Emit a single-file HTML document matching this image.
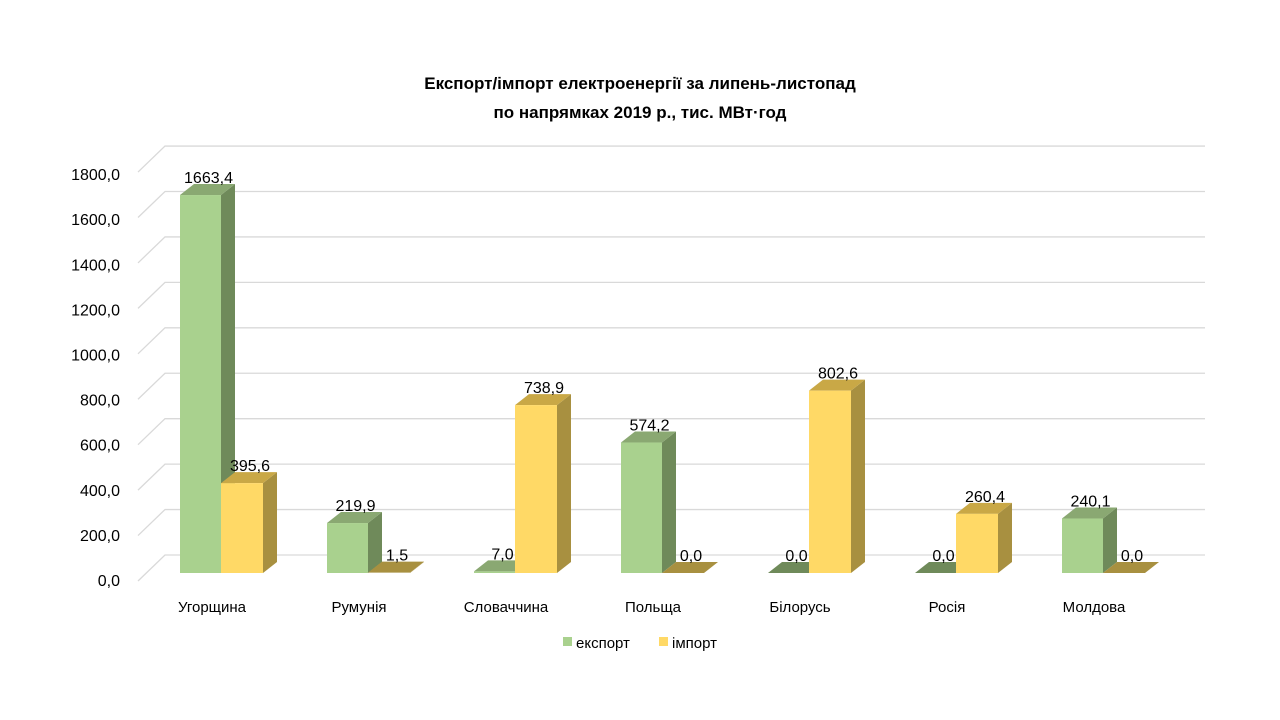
<!DOCTYPE html>
<html><head><meta charset="utf-8"><style>body{margin:0;background:#fff}svg{display:block}text{font-family:"Liberation Sans",sans-serif}</style></head><body>
<svg width="1280" height="720" viewBox="0 0 1280 720" xmlns="http://www.w3.org/2000/svg">
<text x="640" y="89" text-anchor="middle" font-size="17" font-weight="bold">Експорт/імпорт електроенергії за липень-листопад</text>
<text x="640" y="118" text-anchor="middle" font-size="17" font-weight="bold">по напрямках 2019 р., тис. МВт·год</text>
<g id="grid" stroke="#d9d9d9" stroke-width="1.3" fill="none"></g>
<g id="ylab" font-size="16" text-anchor="end" fill="#000"></g>
<g id="bars"></g>
<g id="cats" font-size="15" text-anchor="middle"></g>
<rect x="563" y="637" width="9" height="9" fill="#a9d18e"/><text x="576" y="648" font-size="15">експорт</text>
<rect x="659" y="637" width="9" height="9" fill="#ffd966"/><text x="672" y="648" font-size="15">імпорт</text>
<script>
var ns="http://www.w3.org/2000/svg";
function el(p,t,a,txt){var e=document.createElementNS(ns,t);for(var k in a)e.setAttribute(k,a[k]);if(txt!=null)e.textContent=txt;document.getElementById(p).appendChild(e);}
var k=409/1800;
for(var i=0;i<=9;i++){var y=555-i*45.44;
 el('grid','polyline',{points:(138)+','+(y+26)+' '+165+','+y+' 1205,'+y});
 el('ylab','text',{x:120,y:586-i*45.1},(i*200).toFixed(1).replace('.',','));}
var cats=['Угорщина','Румунія','Словаччина','Польща','Білорусь','Росія','Молдова'];
var ex=[1663.4,219.9,7.0,574.2,0.0,0.0,240.1],im=[395.6,1.5,738.9,0.0,802.6,260.4,0.0];
var G=['#a9d18e','#6f8a5a','#8aa872'],Y=['#ffd966','#a89040','#c9a846'];
function bar(x,w,v,c){var b=573,h=v*k,t=b-h,dx=14,dy=11;
 el('bars','polygon',{points:(x+w)+','+t+' '+(x+w+dx)+','+(t-dy)+' '+(x+w+dx)+','+(b-dy)+' '+(x+w)+','+b,fill:c[1]});
 el('bars','polygon',{points:x+','+t+' '+(x+dx)+','+(t-dy)+' '+(x+w+dx)+','+(t-dy)+' '+(x+w)+','+t,fill:h<1?c[1]:c[2]});
 if(h>=1)el('bars','rect',{x:x,y:t,width:w,height:h,fill:c[0]});
 el('bars','text',{x:x+w/2+8,y:t-12,'font-size':16,'text-anchor':'middle'},v.toFixed(1).replace('.',','));}
for(var j=0;j<7;j++){var x=180+j*147;bar(x,41,ex[j],G);bar(x+41,42,im[j],Y);
 el('cats','text',{x:x+32,y:612},cats[j]);}
</script>
</svg>
</body></html>
